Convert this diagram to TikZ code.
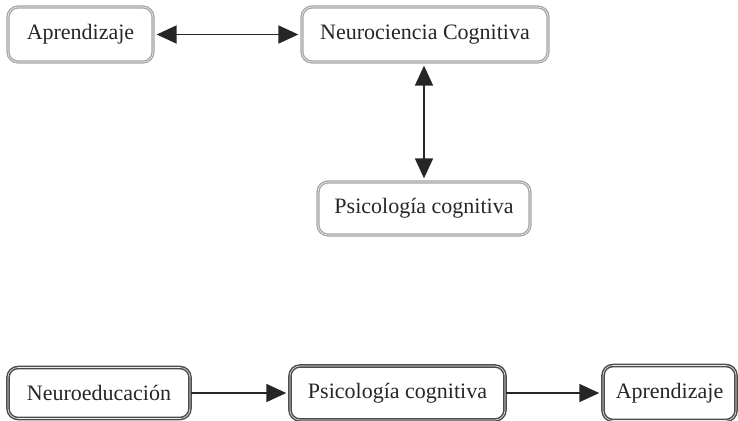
\documentclass[tikz,border=0pt]{standalone}
\usepackage{fontspec}
\setmainfont{Liberation Serif}
\usetikzlibrary{arrows.meta}
\begin{document}
\begin{tikzpicture}[x=0.5pt,y=-0.5pt,
  box/.style={rectangle, rounded corners=5pt, draw=gray!70, double=gray!15,
    double distance=0.3pt, line width=0.65pt, inner sep=0pt,
    font=\fontsize{11}{13}\selectfont, text=black!85},
  dbox/.style={box, draw=black!70, line width=0.75pt},
  link/.style={line width=0.9pt, black!85, {Triangle[length=10pt,width=9pt]}-{Triangle[length=10pt,width=9pt]}, shorten <=1.5pt, shorten >=1.5pt},
  flow/.style={line width=0.9pt, black!85, -{Triangle[length=10pt,width=9pt]}, shorten >=1.5pt}]
\useasboundingbox (0,0) rectangle (738,420);
\node[box, minimum width=72.5pt, minimum height=27.5pt] (a1) at (80.5,34.5) {Aprendizaje};
\node[box, minimum width=123pt, minimum height=27.5pt] (nc) at (425,34.5) {Neurociencia Cognitiva};
\node[box, minimum width=106pt, minimum height=26.5pt] (pc1) at (424,208.5) {Psicología cognitiva};
\draw[link] (a1.east) -- (nc.west);
\draw[link] (nc.south -| pc1.north) -- (pc1.north);
\node[dbox, minimum width=91pt, minimum height=25.5pt] (ne) at (99,393) {Neuroeducación};
\node[dbox, minimum width=107.5pt, minimum height=27pt] (pc2) at (397.5,393) {Psicología cognitiva};
\node[dbox, minimum width=66.5pt, minimum height=27.5pt] (ap2) at (669.5,393) {Aprendizaje};
\draw[flow] (ne.east) -- (pc2.west);
\draw[flow] (pc2.east) -- (ap2.west);
\end{tikzpicture}
\end{document}
